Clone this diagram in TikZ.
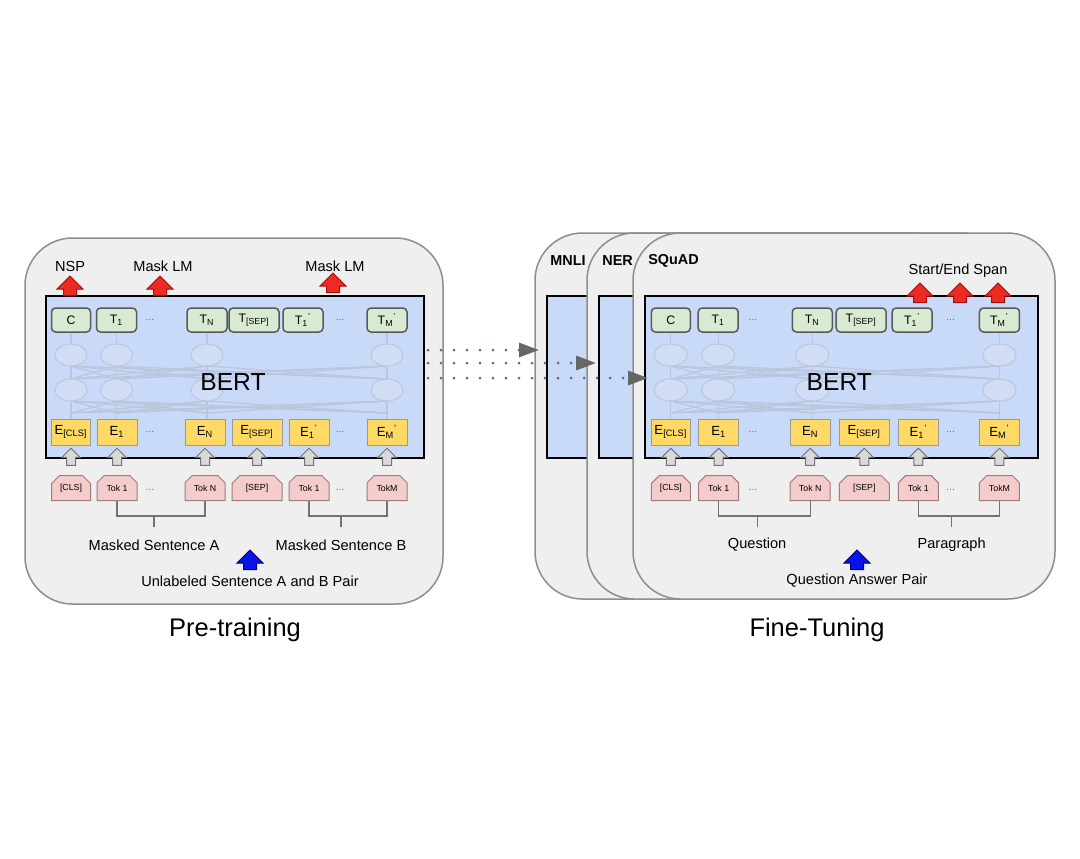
\documentclass[tikz,border=0pt]{standalone}
\usepackage{fontspec}
\setmainfont{Liberation Sans}
\usetikzlibrary{arrows.meta,shapes.arrows,shapes.misc,positioning}

\definecolor{cardfill}{HTML}{EFEFEF}
\definecolor{cardline}{HTML}{8E8E8E}
\definecolor{bertblue}{HTML}{C9DAF8}
\definecolor{netfill}{HTML}{D1DDF5}
\definecolor{netline}{HTML}{BAC6DC}
\definecolor{outgreen}{HTML}{D9EAD3}
\definecolor{embyellow}{HTML}{FFD966}
\definecolor{tokpink}{HTML}{F4CCCC}
\definecolor{tokline}{HTML}{A07C7C}
\definecolor{redfill}{HTML}{EE2A22}
\definecolor{redline}{HTML}{A01010}
\definecolor{bluefill}{HTML}{0A14E8}
\definecolor{blueline}{HTML}{00007A}
\definecolor{dotgray}{HTML}{5F6B7A}

\tikzset{
  card/.style={draw=cardline, fill=cardfill, line width=0.3mm, rounded corners=9.5mm},
  bertbox/.style={draw=black, fill=bertblue, line width=0.5mm},
  netwire/.style={draw=netline, line width=0.25mm},
  netcell/.style={draw=netline, fill=netfill, line width=0.2mm},
  outbox/.style={draw=black!65, fill=outgreen, rounded corners=0.8mm, line width=0.3mm,
    minimum height=4.8mm, inner sep=0pt, font=\fontsize{7}{8}\selectfont},
  embbox/.style={draw=black!40, fill=embyellow, line width=0.2mm,
    minimum height=5.2mm, inner sep=0pt, font=\fontsize{7.5}{8}\selectfont},
  tokbox/.style={chamfered rectangle, chamfered rectangle corners={north west,north east},
    chamfered rectangle sep=0.8mm, draw=tokline, fill=tokpink, line width=0.2mm,
    minimum height=5mm, inner sep=0pt, font=\fontsize{5}{6}\selectfont},
  updart/.style={single arrow, shape border rotate=90, line width=0.2mm},
  redup/.style={updart, draw=redline, fill=redfill, inner sep=1.2mm,
    single arrow head extend=1.3mm, minimum height=3.4mm},
  blueup/.style={updart, draw=blueline, fill=bluefill, inner sep=1.2mm,
    single arrow head extend=1.3mm, minimum height=3.2mm},
  grayup/.style={updart, draw=black!55, fill=black!15, inner sep=0.8mm,
    single arrow head extend=0.9mm, minimum height=3.4mm},
  seqdots/.style={text=black!55, font=\fontsize{6}{7}\selectfont},
  headlabel/.style={font=\fontsize{8.3}{10}\selectfont},
  tasklabel/.style={font=\fontsize{8.2}{10}\selectfont\bfseries, anchor=west, inner sep=0pt},
  phaselabel/.style={font=\fontsize{14.5}{17}\selectfont},
  bertlabel/.style={font=\fontsize{14}{16}\selectfont},
  bracket/.style={draw=black!55, line width=0.25mm},
  dotarrow/.style={draw=dotgray, line width=0.6mm, line cap=round, dash pattern=on 0pt off 2.6mm,
    -{Triangle[length=4mm,width=2.8mm,color=black!60]}}
}

\begin{document}
\begin{tikzpicture}[x=0.2mm, y=-0.2mm]
\fill[white] (0,0) rectangle (1080,858);
\useasboundingbox (0,0) rectangle (1080,858);

% pre-training card
\draw[card] (25,238) rectangle (443,604);
\draw[bertbox] (46,296) rectangle (424,458);

% fine-tuning cards, back to front
\foreach \n/\l/\t in {mnli/535/MNLI, ner/587/NER, squad/633/SQuAD}{
  \draw[card] (\l,233) rectangle ++(422,366);
  \draw[bertbox] (\l+12,296) rectangle ++(393,162);
  \node[tasklabel] (\n) at (\l+15,261) {\t};
}

% both BERT panels share one layout
\foreach \p/\dx/\sx/\qa/\qb/\qc in {L/0/1/Masked Sentence A/Masked Sentence B/Unlabeled Sentence A and B Pair,
    R/597/1.04/Question/Paragraph/Question Answer Pair}{
\begin{scope}[shift={(\dx,0)}, xscale=\sx]
  \foreach \a in {71,116.5,207,387}{
    \draw[netwire] (\a,332) -- (\a,419);
    \foreach \b in {71,116.5,207,387}{
      \draw[netwire] (\a,366) -- (\b,379);
      \draw[netwire] (\a,401) -- (\b,413);
    }
  }
  \foreach \a in {71,116.5,207,387}{
    \draw[netcell] (\a,355) ellipse (16 and 11);
    \draw[netcell] (\a,390) ellipse (16 and 11);
  }
  \node[bertlabel] (bert\p) at (233,382) {BERT};
  \foreach \c/\xt/\xe/\w/\tt/\et/\kt in {
      1/71/71/39/C/E\textsubscript{[CLS]}/[CLS],
      2/116.5/117/40/T\textsubscript{1}/E\textsubscript{1}/Tok 1,
      3/207/205/40/T\textsubscript{N}/E\textsubscript{N}/Tok N,
      4/254/257/50/T\textsubscript{[SEP]}/E\textsubscript{[SEP]}/[SEP],
      5/303/309/40/T\textsubscript{1}\textsuperscript{'}/E\textsubscript{1}\textsuperscript{'}/Tok 1,
      6/387/387/40/T\textsubscript{M}\textsuperscript{'}/E\textsubscript{M}\textsuperscript{'}/TokM}{
    \node[outbox, minimum width=\w*0.2mm] (t\p\c) at (\xt,320) {\tt};
    \node[embbox, minimum width=\w*0.2mm] (e\p\c) at (\xe,432) {\et};
    \node[grayup] (g\p\c) at (\xe,459) {};
    \node[tokbox, minimum width=\w*0.2mm] (k\p\c) at (\xe,488) {\kt};
  }
  \foreach \x in {150,340}
    \foreach \y in {320,432,490}
      \node[seqdots] (d\p\x\y) at (\x,\y) {...};
  \draw[bracket] (k\p2.south) -- ++(0,15) -| (k\p3.south);
  \draw[bracket] (k\p5.south) -- ++(0,15) -| (k\p6.south);
  \draw[bracket] (154,515) -- (154,527);
  \draw[bracket] (341,515) -- (341,527);
  \node[headlabel] (qa\p) at (154,545) {\qa};
  \node[headlabel] (qb\p) at (341,545) {\qb};
  \node[blueup] (in\p) at (250,563) {};
  \node[headlabel] (qc\p) at (250,581) {\qc};
\end{scope}
}

% task heads
\node[headlabel] (nsp) at (70,266) {NSP};
\node[redup] (nspup) at (70,289) {};
\node[headlabel] (mlmA) at (163,266) {Mask LM};
\node[redup] (mlmupA) at (160,289) {};
\node[headlabel] (mlmB) at (335,266) {Mask LM};
\node[redup] (mlmupB) at (333,286) {};
\node[headlabel] (span) at (958,271) {Start/End Span};
\foreach \i/\x in {1/920,2/960,3/998}
  \node[redup] (spanup\i) at (\x,296) {};

% transfer to the fine-tuning tasks
\foreach \i/\y/\e in {A/350/539, B/363/596, C/378/648}{
  \coordinate (out\i) at (428,\y);
  \coordinate (in\i) at (\e,\y);
  \draw[dotarrow] (out\i) -- (in\i);
}

\node[phaselabel] (pre) at (235,630) {Pre-training};
\node[phaselabel] (fine) at (817,630) {Fine-Tuning};
\end{tikzpicture}
\end{document}
